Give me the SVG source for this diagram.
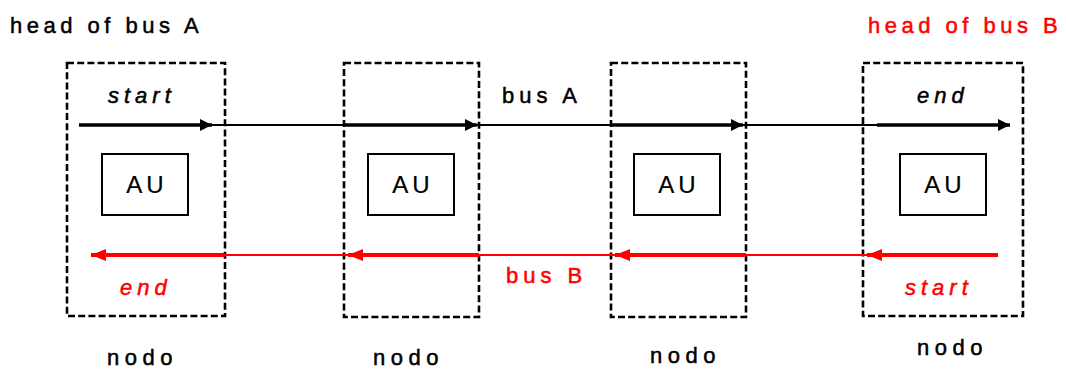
<svg xmlns="http://www.w3.org/2000/svg" width="1066" height="370" viewBox="0 0 1066 370">
<style>
text{font-family:"Liberation Sans",Arial,sans-serif;font-size:22px;stroke-width:0.5px}
.hd{letter-spacing:4.5px}
.bus{letter-spacing:5px}
.it{font-style:italic;letter-spacing:5px}
.nodo{letter-spacing:5.5px}
.au{font-size:24px;letter-spacing:4px;stroke-width:0.2px}
.blk{fill:#000;stroke:#000}
.red{fill:#ff0000;stroke:#ff0000}
.node{fill:none;stroke:#000;stroke-width:2.6;stroke-dasharray:7 3.2}
.aubox{fill:#fff;stroke:#000;stroke-width:2}
.thinA{stroke:#000;stroke-width:2;fill:none}
.thickA{stroke:#000;stroke-width:3.5;fill:none}
.thinB{stroke:#ff0000;stroke-width:2;fill:none}
.thickB{stroke:#ff0000;stroke-width:4;fill:none}
</style>
<defs>
<marker id="ahA" markerUnits="userSpaceOnUse" markerWidth="13" markerHeight="12" refX="12" refY="6" orient="auto">
<path d="M0,0 L12,6 L0,12 Z" fill="#000"/>
</marker>
<marker id="ahB" markerUnits="userSpaceOnUse" markerWidth="16" markerHeight="12" refX="15" refY="6" orient="auto">
<path d="M0,0 L15,6 L0,12 Z" fill="#ff0000"/>
</marker>
</defs>
<rect width="1066" height="370" fill="#fff"/>
<text class="hd blk" x="10" y="33">head of bus A</text>
<text class="hd red" x="868" y="33">head of bus B</text>

<g id="node1">
<rect class="node" x="67" y="63" width="158" height="253"/>
<rect class="aubox" x="102" y="154" width="86" height="61"/>
<text class="au blk" x="147" y="193" text-anchor="middle">AU</text>
<text class="it blk" x="108" y="103">start</text>
<text class="it red" x="120" y="295">end</text>
<text class="nodo blk" x="107" y="365">nodo</text>
</g>
<g id="node2">
<rect class="node" x="344" y="63" width="135" height="254"/>
<rect class="aubox" x="368" y="154" width="86" height="61"/>
<text class="au blk" x="413" y="193" text-anchor="middle">AU</text>
<text class="nodo blk" x="373" y="365">nodo</text>
</g>
<g id="node3">
<rect class="node" x="611" y="63" width="135" height="254"/>
<rect class="aubox" x="634" y="154" width="86" height="61"/>
<text class="au blk" x="679" y="193" text-anchor="middle">AU</text>
<text class="nodo blk" x="650" y="363">nodo</text>
</g>
<g id="node4">
<rect class="node" x="863" y="63" width="160" height="253"/>
<rect class="aubox" x="900" y="154" width="86" height="61"/>
<text class="au blk" x="945" y="193" text-anchor="middle">AU</text>
<text class="it blk" x="917" y="103">end</text>
<text class="it red" x="905" y="295">start</text>
<text class="nodo blk" x="917" y="355">nodo</text>
</g>

<g id="connectors">
<line class="thinA" x1="79" y1="125" x2="1000" y2="125"/>
<line class="thickA" x1="79" y1="125" x2="212" y2="125" marker-end="url(#ahA)"/>
<line class="thickA" x1="344" y1="125" x2="477" y2="125" marker-end="url(#ahA)"/>
<line class="thickA" x1="611" y1="125" x2="743" y2="125" marker-end="url(#ahA)"/>
<line class="thickA" x1="877" y1="125" x2="1010" y2="125" marker-end="url(#ahA)"/>
<text class="bus blk" x="502" y="103">bus A</text>

<line class="thinB" x1="998" y1="255" x2="100" y2="255"/>
<line class="thickB" x1="998" y1="255" x2="867" y2="255" marker-end="url(#ahB)"/>
<line class="thickB" x1="746" y1="255" x2="615" y2="255" marker-end="url(#ahB)"/>
<line class="thickB" x1="479" y1="255" x2="348" y2="255" marker-end="url(#ahB)"/>
<line class="thickB" x1="225" y1="255" x2="91" y2="255" marker-end="url(#ahB)"/>
<text class="bus red" x="506" y="283">bus B</text>
</g>
</svg>
